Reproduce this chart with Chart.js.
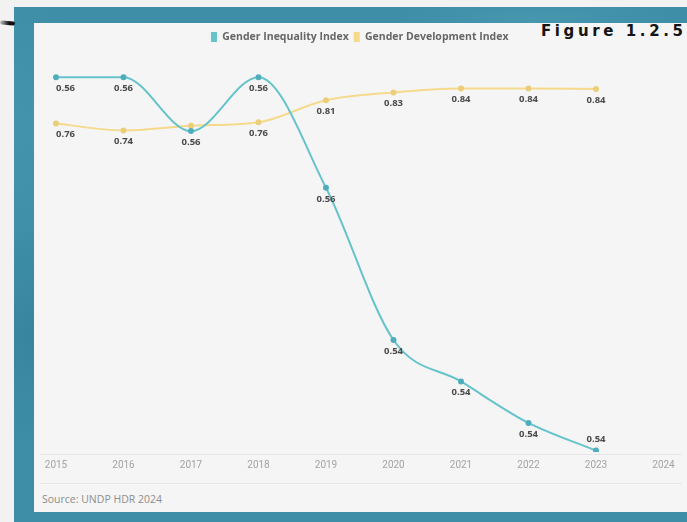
<!DOCTYPE html>
<html>
<head>
<meta charset="utf-8">
<script src="https://cdn.jsdelivr.net/npm/chart.js@4.4.1/dist/chart.umd.min.js"></script>
<style>
  html, body { margin: 0; padding: 0; }
  body {
    width: 687px; height: 522px; overflow: hidden; position: relative;
    background: #f2f2f2; font-family: "Open Sans", sans-serif;
  }
  #frame {
    position: absolute; left: 14px; top: 7px; width: 673px; height: 515px;
    background:
      radial-gradient(ellipse 100px 160px at 18px 330px, rgba(45,115,140,0.35), rgba(45,115,140,0) 70%),
      radial-gradient(ellipse 200px 40px at 520px 12px, rgba(90,170,190,0.3), rgba(90,170,190,0) 70%),
      radial-gradient(ellipse 90px 200px at 8px 120px, rgba(85,160,185,0.3), rgba(85,160,185,0) 70%),
      #3e8ea8;
  }
  #mark {
    position: absolute; left: 0; top: 21px; width: 15px; height: 4px;
    background: linear-gradient(90deg, rgba(20,20,20,0.2), #111 60%);
    border-radius: 2px; transform: rotate(6deg);
  }
  #panel {
    position: absolute; left: 34px; top: 23px; width: 653px; height: 489px;
    background: #f5f5f5;
  }
  #figure {
    position: absolute; left: 541px; top: 22px;
    font-family: "DejaVu Sans", sans-serif; font-weight: bold; font-size: 15px;
    letter-spacing: 3.6px; color: #141414; white-space: nowrap;
  }
  #chartBox { position: absolute; left: 34px; top: 23px; width: 653px; height: 457px; }
  .rule { position: absolute; left: 40px; width: 642px; height: 1px; background: #e6e6e6; }
  #source {
    position: absolute; left: 42px; top: 492px;
    font-size: 10.5px; color: #8e8e8e; white-space: nowrap;
  }
</style>
</head>
<body>
<div id="frame"></div>
<div id="mark"></div>
<div id="panel"></div>
<div id="figure">Figure 1.2.5</div>
<div class="rule" style="top:454px"></div>
<div class="rule" style="top:483px"></div>
<div id="chartBox"><canvas id="chart" width="653" height="457"></canvas></div>
<div id="source">Source: UNDP HDR 2024</div>
<script>
// Years on the horizontal axis
const years = ['2015', '2016', '2017', '2018', '2019', '2020', '2021', '2022', '2023', '2024'];

// Gender Inequality Index (labels show two decimals)
const giiValues = [0.5635, 0.5635, 0.5596, 0.5635, 0.5555, 0.5445, 0.5415, 0.5385, 0.5365, null];

// Gender Development Index
const gdiValues = [0.760, 0.744, 0.755, 0.763, 0.814, 0.832, 0.841, 0.841, 0.840, null];

const seriesNames = ['Gender Inequality Index', 'Gender Development Index'];

const TEAL = '#66c3cb';
const TEAL_DOT = '#4eaebb';
const GOLD = '#f5da8b';
const GOLD_DOT = '#ebce79';

// Value labels under each point; moved above when there is no room below,
// kept inside the plot horizontally, and dropped when they would collide.
const valueLabels = {
  id: 'valueLabels',
  afterDatasetsDraw(chart) {
    const ctx = chart.ctx;
    const area = chart.chartArea;
    const placed = [];
    ctx.save();
    ctx.font = 'bold 9.5px "Open Sans", sans-serif';
    ctx.fillStyle = '#4a4a4a';
    ctx.textAlign = 'center';
    ctx.textBaseline = 'middle';
    const h = 9;
    chart.data.datasets.forEach((ds, di) => {
      const meta = chart.getDatasetMeta(di);
      meta.data.forEach((pt, i) => {
        const v = ds.data[i];
        if (v === null || v === undefined) return;
        const text = v.toFixed(2);
        const w = ctx.measureText(text).width;
        let x = pt.x;
        x = Math.max(area.left + w / 2, Math.min(area.right - w / 2, x));
        let y = pt.y + 11;
        if (y + h / 2 > area.bottom) y = pt.y - 11;
        const box = { l: x - w / 2, r: x + w / 2, t: y - h / 2, b: y + h / 2 };
        const hit = placed.some(p => box.l < p.r && box.r > p.l && box.t < p.b && box.b > p.t);
        if (hit) return;
        placed.push(box);
        ctx.fillText(text, x, y);
      });
    });
    ctx.restore();
  }
};

new Chart(document.getElementById('chart'), {
  type: 'line',
  data: {
    labels: years,
    datasets: [
      {
        label: seriesNames[0],
        data: giiValues,
        yAxisID: 'yGii',
        borderColor: TEAL,
        backgroundColor: TEAL,
        pointBackgroundColor: TEAL_DOT,
        pointBorderColor: TEAL_DOT,
        borderWidth: 2,
        pointRadius: 2,
        cubicInterpolationMode: 'monotone',
        spanGaps: false
      },
      {
        label: seriesNames[1],
        data: gdiValues,
        yAxisID: 'yGdi',
        borderColor: GOLD,
        backgroundColor: GOLD,
        pointBackgroundColor: GOLD_DOT,
        pointBorderColor: GOLD_DOT,
        borderWidth: 2,
        pointRadius: 2,
        cubicInterpolationMode: 'monotone',
        spanGaps: false
      }
    ]
  },
  options: {
    responsive: false,
    devicePixelRatio: 1,
    animation: false,
    layout: { padding: { left: 22, right: 23.5, top: 3.75, bottom: 2 } },
    plugins: {
      tooltip: { enabled: false },
      legend: {
        position: 'top',
        labels: {
          boxWidth: 6,
          boxHeight: 10,
          padding: 5,
          color: '#666666',
          font: { family: '"Open Sans", sans-serif', size: 10.5, weight: 'bold' },
          generateLabels(chart) {
            return Chart.defaults.plugins.legend.labels.generateLabels(chart)
              .map(item => Object.assign(item, { lineWidth: 0 }));
          }
        }
      }
    },
    scales: {
      x: {
        offset: false,
        grid: { display: false, drawTicks: false },
        border: { display: false },
        ticks: {
          color: '#a3a3a3',
          padding: 7,
          maxRotation: 0,
          autoSkip: false,
          font: { family: '"Liberation Sans Narrow", "Roboto", sans-serif', size: 10 }
        }
      },
      yGii: {
        display: false,
        min: 0.5364,
        max: 0.5653
      },
      yGdi: {
        display: false,
        min: 0,
        max: 0.925
      }
    }
  },
  plugins: [valueLabels]
});
</script>
</body>
</html>
